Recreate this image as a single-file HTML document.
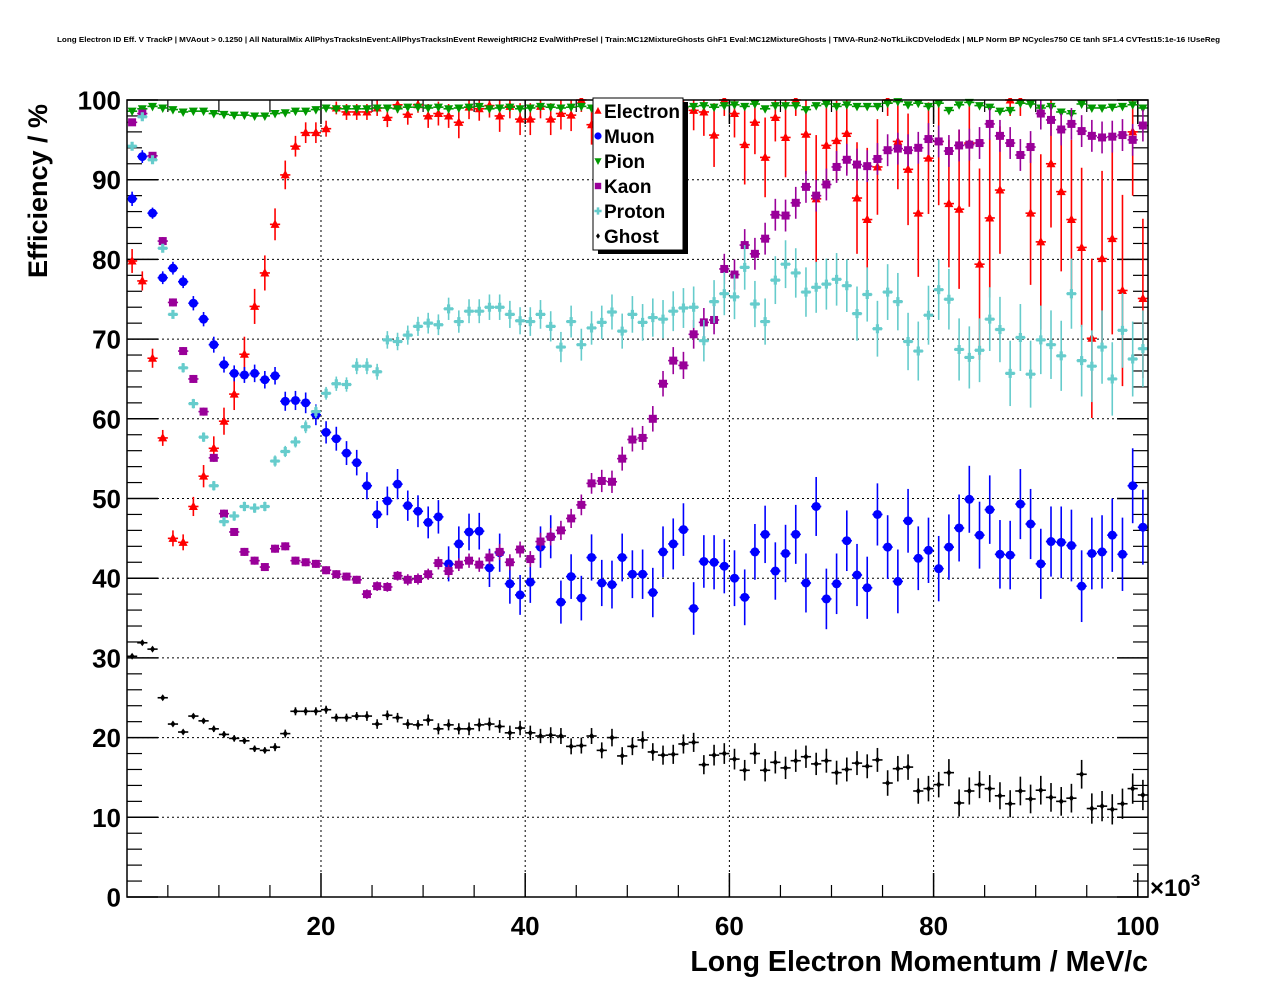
<!DOCTYPE html>
<html><head><meta charset="utf-8">
<style>
html,body{margin:0;padding:0;background:#fff;}
svg{display:block;font-family:"Liberation Sans",Arial,sans-serif;}
</style></head>
<body>
<svg id="chart" width="1276" height="996" viewBox="0 0 1276 996" xmlns="http://www.w3.org/2000/svg">
<defs><clipPath id="frameclip"><rect x="127" y="98" width="1021" height="799"/></clipPath></defs>
<rect x="0" y="0" width="1276" height="996" fill="#fff"/>
<text x="57" y="42" font-size="7" font-weight="bold" textLength="1163" lengthAdjust="spacingAndGlyphs">Long Electron ID Eff. V TrackP | MVAout &gt; 0.1250 | All NaturalMix AllPhysTracksInEvent:AllPhysTracksInEvent ReweightRICH2 EvalWithPreSel | Train:MC12MixtureGhosts GhF1 Eval:MC12MixtureGhosts | TMVA-Run2-NoTkLikCDVelodEdx | MLP Norm BP NCycles750 CE tanh SF1.4 CVTest15:1e-16 !UseReg</text>
<g id="grid"></g>
<g id="axes"></g>
<g id="series" clip-path="url(#frameclip)"></g>
<rect x="127" y="100" width="1021" height="797" fill="none" stroke="#000" stroke-width="1.5"/>
<text transform="translate(47,278) rotate(-90)" font-size="27" font-weight="bold">Efficiency / %</text>
<text x="1148" y="971" text-anchor="end" font-size="28.5" font-weight="bold">Long Electron Momentum / MeV/c</text>
<text x="1150" y="896" font-size="24" font-weight="bold">×10<tspan font-size="17" dy="-10">3</tspan></text>
<g id="legend">
<rect x="598" y="102" width="90" height="152" fill="#000"/>
<rect x="593" y="98" width="90" height="152" fill="#fff" stroke="#000" stroke-width="1"/>
</g>
</svg>
<script>
// ---------- data ----------
const binCenters = Array.from({length:100},(_,i)=>1.5+i); // momentum (x10^3 MeV/c), 1k-wide bins
const xTicks = [20,40,60,80,100];
const yTicks = [0,10,20,30,40,50,60,70,80,90,100];
const seriesNames = ["Electron","Muon","Pion","Kaon","Proton","Ghost"];
const electronEff = [79.8,77.3,67.6,57.6,45.0,44.5,49.0,52.8,56.3,59.7,63.1,68.1,74.1,78.3,84.4,90.6,94.2,95.9,95.9,96.4,99.0,98.5,98.5,98.5,99.0,97.8,99.4,98.2,99.4,98.0,98.3,98.0,97.2,99.1,98.9,99.3,98.0,99.2,97.6,97.6,99.2,97.6,98.3,98.1,100,96.9,98.5,99.0,98.8,100,100,98.5,99.0,98.3,99.0,98.7,98.5,95.6,100,98.3,94.4,97.2,92.8,97.8,95.3,100,95.7,87.6,94.3,94.9,95.8,87.7,85.0,91.6,100,94.8,91.3,85.8,92.7,94.8,87.0,86.3,94.6,79.4,85.2,88.7,100,100,85.8,82.2,92.0,88.5,85.0,81.5,70.1,80.1,82.6,76.1,96,75.1];
const electronErr = [1.5,1.2,1.2,1.0,1.0,1.0,1.2,1.4,1.5,1.7,2,2.2,2.2,2.2,2,1.8,1.3,1.3,1.3,1,0.8,1,1,1,1,1.2,1,1.3,1,1.5,1.5,1.5,2,1.5,1.5,1.5,2,1.5,2,2,1.5,2,2,2,1.5,2.5,2,2,2,1.5,1.5,2,2,2.5,2.5,2.5,3,4,2,3,5,4,5,3,5,2,5,8,5,5,5,7,9,6,2,6,7,8,7,8,8,10,8,12,10,8,2,2,9,11,8,10,10,10,10,11,12,12,8,10];
const muonEff = [87.6,92.9,85.8,77.7,78.9,77.2,74.5,72.5,69.3,66.8,65.7,65.5,65.7,64.9,65.4,62.2,62.3,62.0,60.5,58.3,57.5,55.7,54.5,51.6,48.0,49.7,51.8,49.1,48.4,47.0,47.7,41.8,44.3,45.8,45.9,41.3,43.2,39.3,37.9,39.5,43.9,45.2,37.0,40.2,37.5,42.6,39.4,39.2,42.6,40.5,40.5,38.2,43.3,44.3,46.1,36.2,42.1,42.0,41.5,40.0,37.6,43.3,45.5,40.9,43.1,45.5,39.4,49.0,37.4,39.3,44.7,40.4,38.8,48.0,43.9,39.6,47.2,42.5,43.5,41.2,43.9,46.3,49.9,45.4,48.6,43.0,42.9,49.3,46.8,41.8,44.6,44.5,44.1,39.0,43.1,43.3,45.4,43.0,51.6,46.4];
const muonErr = [0.9,0.8,0.7,0.8,0.8,0.8,0.9,0.9,1,1,1,1,1.1,1.1,1.1,1.2,1.2,1.3,1.3,1.4,1.5,1.5,1.6,1.7,1.7,1.8,1.9,1.9,2,2,2.1,2.2,2.2,2.3,2.3,2.4,2.4,2.5,2.5,2.6,2.6,2.7,2.7,2.8,2.8,2.9,2.9,3,3,3,3.1,3.1,3.2,3.2,3.3,3.3,3.3,3.4,3.4,3.5,3.5,3.5,3.6,3.6,3.6,3.7,3.7,3.7,3.8,3.8,3.8,3.9,3.9,3.9,4,4,4,4,4.1,4.1,4.1,4.2,4.2,4.2,4.3,4.3,4.3,4.4,4.4,4.4,4.4,4.5,4.5,4.5,4.5,4.6,4.6,4.6,4.7,4.7];
const pionEff = [98.6,98.9,99.2,99.0,98.8,98.5,98.6,98.6,98.3,98.2,98.1,98.1,98.0,98.0,98.3,98.4,98.6,98.6,98.8,99.0,98.9,98.9,98.9,98.9,99.0,99.0,98.9,99.1,99.1,99.0,99.1,98.9,99.0,99.1,99.2,98.9,99.0,99.1,98.9,99.0,99.2,99.1,99.0,99.1,99.2,99.0,99.1,99.2,99.1,99.0,99.3,99.2,99.1,99.2,99.1,99.2,99.3,99.1,99.3,99.4,99.2,99.5,98.9,99.3,99.3,99.3,98.8,99.3,99.5,99.2,99.4,99.2,99.2,99.2,99.6,99.8,99.4,99.6,99.2,99.6,98.7,99.4,99.7,99.3,99.1,98.6,98.7,99.6,99.5,99.0,99.2,98.5,98.3,99.5,99.0,99.0,99.1,99.2,99.4,99.0];
const kaonEff = [97.2,98.3,93.0,82.3,74.6,68.5,65.0,60.9,55.1,48.1,45.8,43.3,42.2,41.4,43.7,44.0,42.2,42.0,41.8,41.0,40.5,40.2,39.8,38.0,39.0,38.9,40.3,39.8,39.9,40.5,41.9,40.9,41.7,42.2,41.7,42.6,43.3,42.0,43.6,42.4,44.6,45.2,46.0,47.5,49.2,51.9,52.2,52.1,55.0,57.4,57.6,60.0,64.4,67.3,66.7,70.6,72.1,72.4,78.8,78.1,81.8,80.7,82.6,85.6,85.5,87.1,89.1,88.0,89.4,91.6,92.5,91.9,91.7,92.6,93.7,93.9,93.7,94.0,95.1,94.8,93.6,94.3,94.4,94.6,97.0,95.5,94.6,93.1,94.1,98.3,97.5,96.3,97.0,96.1,95.5,95.3,95.4,95.6,95.0,96.8];
const kaonErr = [0.4,0.3,0.4,0.5,0.5,0.5,0.5,0.5,0.5,0.5,0.5,0.5,0.5,0.5,0.5,0.5,0.5,0.5,0.5,0.5,0.5,0.5,0.5,0.6,0.6,0.6,0.6,0.7,0.7,0.7,0.8,0.8,0.8,0.9,0.9,0.9,1,1,1,1,1.1,1.1,1.2,1.2,1.3,1.3,1.4,1.4,1.5,1.5,1.5,1.6,1.6,1.7,1.7,1.8,1.8,1.8,1.9,1.9,2,2,2,2,2,2,2,2,2,2,2,2,2,2,2,2,2,2,2,2,2,2,2,2,2,2,2,2,2,2,2,2,2,2,2,2,2,2,2,2];
const protonEff = [94.2,97.9,92.5,81.4,73.1,66.4,61.9,57.7,51.6,47.1,47.8,49.0,48.8,49.0,54.7,55.9,57.1,59.0,60.9,63.2,64.4,64.3,66.6,66.6,65.9,69.9,69.7,70.5,71.6,72.0,71.8,73.8,72.2,73.5,73.5,74.0,74.0,73.1,72.3,72.2,73.1,71.6,69.0,72.2,69.3,71.4,72.1,73.4,71.0,73.1,72.1,72.7,72.5,73.5,73.9,74.0,69.8,74.7,75.7,75.3,79.0,74.4,72.2,77.4,79.4,78.3,75.9,76.5,76.9,77.5,76.7,73.2,75.6,71.3,75.9,74.7,69.7,68.5,73.0,76.2,75.0,68.7,67.7,68.6,72.5,71.2,65.7,70.2,65.6,69.9,69.3,67.9,75.7,67.3,66.6,69.0,65.0,71.1,67.5,68.8];
const protonErr = [0.4,0.3,0.4,0.5,0.5,0.6,0.6,0.6,0.6,0.6,0.6,0.6,0.6,0.6,0.7,0.7,0.7,0.8,0.8,0.8,0.9,0.9,1,1,1,1.1,1.1,1.2,1.2,1.3,1.3,1.4,1.4,1.5,1.5,1.6,1.6,1.7,1.7,1.8,1.8,1.9,1.9,2,2,2.1,2.1,2.2,2.2,2.3,2.3,2.4,2.4,2.5,2.5,2.6,2.6,2.7,2.7,2.8,2.8,2.9,2.9,3,3,3.1,3.1,3.2,3.2,3.3,3.3,3.4,3.4,3.5,3.5,3.6,3.6,3.7,3.7,3.8,3.8,3.9,3.9,4,4,4.1,4.1,4.2,4.2,4.3,4.3,4.4,4.4,4.5,4.5,4.6,4.6,4.7,4.7,4.8];
const ghostEff = [30.2,31.9,31.1,25.0,21.7,20.7,22.7,22.1,21.1,20.4,19.9,19.6,18.6,18.4,18.8,20.5,23.3,23.3,23.3,23.5,22.5,22.5,22.7,22.7,21.7,22.8,22.5,21.7,21.6,22.2,21.1,21.6,21.1,21.1,21.6,21.7,21.4,20.6,21.2,20.6,20.2,20.3,20.2,18.9,19.0,20.2,18.4,20.0,17.7,18.9,19.7,18.2,17.8,17.9,19.2,19.4,16.6,17.8,18.0,17.3,15.9,18.0,15.9,16.9,16.2,17.1,17.6,16.7,17.1,15.6,16.0,16.8,16.4,17.2,14.3,16.1,16.3,13.3,13.6,14.1,15.6,11.8,13.3,14.1,13.6,12.7,11.7,13.3,12.3,13.4,12.5,12.0,12.4,15.4,11.1,11.4,11.0,11.7,13.6,12.8];
const ghostErr = [0.2,0.2,0.3,0.3,0.3,0.3,0.3,0.3,0.4,0.4,0.4,0.4,0.4,0.4,0.5,0.5,0.5,0.5,0.5,0.5,0.5,0.5,0.5,0.6,0.6,0.6,0.6,0.6,0.6,0.7,0.7,0.7,0.7,0.8,0.8,0.8,0.8,0.9,0.9,0.9,0.9,1,1,1,1,1,1,1.1,1.1,1.1,1.1,1.1,1.2,1.2,1.2,1.2,1.2,1.3,1.3,1.3,1.3,1.3,1.4,1.4,1.4,1.4,1.4,1.4,1.5,1.5,1.5,1.5,1.5,1.5,1.6,1.6,1.6,1.6,1.6,1.6,1.7,1.7,1.7,1.7,1.7,1.7,1.7,1.8,1.8,1.8,1.8,1.8,1.8,1.8,1.9,1.9,1.9,1.9,1.9,1.9];

// ---------- axes ----------
const X0=127, X1=1148, Y0=897, Y1=100;
const xMin=1, xMax=101, yMin=0, yMax=100;
function xs(v){return X0+(v-xMin)/(xMax-xMin)*(X1-X0);}
function ys(v){return Y0-(v-yMin)/(yMax-yMin)*(Y0-Y1);}
const NS="http://www.w3.org/2000/svg";
function mk(tag,attrs,parent){const e=document.createElementNS(NS,tag);for(const k in attrs)e.setAttribute(k,attrs[k]);parent.appendChild(e);return e;}

const grid=document.getElementById('grid');
const axes=document.getElementById('axes');
yTicks.forEach(t=>{
  const y=ys(t);
  if(t>0&&t<100){
    const g=mk('line',{x1:X0,x2:X1,y1:y,y2:y,stroke:'#000','stroke-width':1,'stroke-dasharray':'2,3'},grid);
    
    
  }
  const tk=mk('line',{x1:X0,x2:X0+31,y1:y,y2:y,stroke:'#000','stroke-width':1.5},axes);
  
  
  const tr=mk('line',{x1:X1-31,x2:X1,y1:y,y2:y,stroke:'#000','stroke-width':1.5},axes);
  
  
  const lb=mk('text',{x:121,y:y+9.5,'text-anchor':'end','font-size':26,'font-weight':'bold'},axes);
  lb.textContent=t;
  
  
});
for(let v=2;v<100;v+=2){ if(v%10===0) continue;
  const y=ys(v);
  const m=mk('line',{x1:X0,x2:X0+15,y1:y,y2:y,stroke:'#000','stroke-width':1.2},axes);
  
  
  const m2=mk('line',{x1:X1-15,x2:X1,y1:y,y2:y,stroke:'#000','stroke-width':1.2},axes);
  
  
}
xTicks.forEach(t=>{
  const x=xs(t);
  if(t<100){
    const g=mk('line',{x1:x,x2:x,y1:Y1,y2:Y0,stroke:'#000','stroke-width':1,'stroke-dasharray':'2,3'},grid);
    
    
  }
  const tk=mk('line',{x1:x,x2:x,y1:Y0,y2:Y0-24,stroke:'#000','stroke-width':1.5},axes);
  
  
  const tt=mk('line',{x1:x,x2:x,y1:Y1,y2:Y1+24,stroke:'#000','stroke-width':1.5},axes);
  
  
  const lb=mk('text',{x:x,y:935,'text-anchor':'middle','font-size':26,'font-weight':'bold'},axes);
  lb.textContent=t;
  
  
});
for(let v=5;v<=100;v+=5){ if(v%20===0) continue;
  const x=xs(v);
  const m=mk('line',{x1:x,x2:x,y1:Y0,y2:Y0-12,stroke:'#000','stroke-width':1.2},axes);
  
  
  const m2=mk('line',{x1:x,x2:x,y1:Y1,y2:Y1+12,stroke:'#000','stroke-width':1.2},axes);
  
  
}

// ---------- markers ----------
function marker(type,x,y,color,parent,s){
  s=s||1;
  if(type==='tri-up') return mk('polygon',{points:`${x},${y-5*s} ${x-4.5*s},${y+3.5*s} ${x+4.5*s},${y+3.5*s}`,fill:color},parent);
  if(type==='tri-down') return mk('polygon',{points:`${x},${y+5*s} ${x-4.5*s},${y-3.5*s} ${x+4.5*s},${y-3.5*s}`,fill:color},parent);
  if(type==='circle') return mk('circle',{cx:x,cy:y,r:4.5*s,fill:color},parent);
  if(type==='square') return mk('rect',{x:x-4*s,y:y-4*s,width:8*s,height:8*s,fill:color},parent);
  if(type==='cross') return mk('path',{d:`M${x-1.6*s},${y-4.5*s}h${3.2*s}v${2.9*s}h${2.9*s}v${3.2*s}h${-2.9*s}v${2.9*s}h${-3.2*s}v${-2.9*s}h${-2.9*s}v${-3.2*s}h${2.9*s}z`,fill:color},parent);
  if(type==='diamond') return mk('polygon',{points:`${x},${y-3.5*s} ${x+2.5*s},${y} ${x},${y+3.5*s} ${x-2.5*s},${y}`,fill:color},parent);
}
const seriesLayer=document.getElementById('series');
const seriesDefs=[
  {name:'electron',vals:electronEff,err:electronErr,color:'#ff0000',m:'tri-up'},
  {name:'muon',vals:muonEff,err:muonErr,color:'#0000ff',m:'circle'},
  {name:'pion',vals:pionEff,err:null,color:'#009900',m:'tri-down'},
  {name:'kaon',vals:kaonEff,err:kaonErr,color:'#990099',m:'square'},
  {name:'proton',vals:protonEff,err:protonErr,color:'#66cccc',m:'cross'},
  {name:'ghost',vals:ghostEff,err:ghostErr,color:'#000000',m:'diamond'}
];
seriesDefs.forEach(sd=>{
  const g=mk('g',{},seriesLayer);
  
  
  sd.vals.forEach((v,i)=>{
    const c=binCenters[i];
    const x=xs(c), y=ys(v);
    const e=sd.err?sd.err[i]:0.3;
    const hb=mk('line',{x1:xs(c-0.5),x2:xs(c+0.5),y1:y,y2:y,stroke:sd.color,'stroke-width':1.6},g);
    
    
    const vb=mk('line',{x1:x,x2:x,y1:ys(Math.min(v+e,100)),y2:ys(v-e),stroke:sd.color,'stroke-width':1.6},g);
    
    
    const p=marker(sd.m,x,y,sd.color,g);
    
    
  });
});

// ---------- legend ----------
const legend=document.getElementById('legend');
const legendMarkers=['tri-up','circle','tri-down','square','cross','diamond'];
const legendColors=['#ff0000','#0000ff','#009900','#990099','#66cccc','#000000'];
seriesNames.forEach((n,i)=>{
  const y=111+i*25;
  const m=marker(legendMarkers[i],598,y,legendColors[i],legend,0.8);
  
  
  const t=mk('text',{x:604,y:y+7,'font-size':19,'font-weight':'bold'},legend);
  t.textContent=n;
  
  
});
</script>
</body></html>
